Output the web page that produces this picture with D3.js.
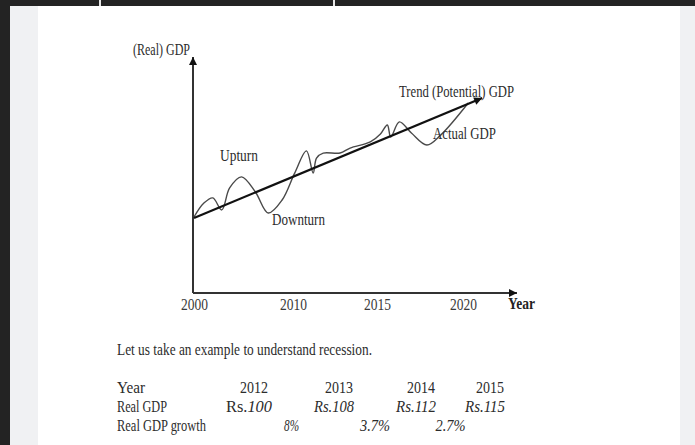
<!DOCTYPE html>
<html>
<head>
<meta charset="utf-8">
<script src="https://cdn.jsdelivr.net/npm/d3@7"></script>
<style>
body { margin: 0; background: #fff; }
</style>
</head>
<body>
<div id="chart"></div>
<script>
// x axis tick years (the drawing is schematic, spacing is not even)
const tickYears = [2000, 2010, 2015, 2020];
// trend (potential) GDP, start and end
const trendYears = [2000, 2021.1];
const trendGdp = [31.8, 82.6];
// actual GDP
const actualYears = [2000.0, 2001.0, 2001.9, 2002.8, 2003.6, 2004.8, 2006.2, 2007.5, 2008.9, 2010.1, 2010.8, 2011.2, 2011.4, 2011.8, 2012.8, 2013.4, 2014.6, 2015.2, 2015.6, 2015.8, 2016.3, 2017.0, 2017.9, 2018.7, 2020.3];
const actualGdp = [32.2, 38.1, 40.3, 35.2, 44.5, 49.2, 42.8, 33.9, 39.4, 50.8, 60.2, 50.8, 57.2, 59.3, 59.3, 61.4, 64.0, 67.4, 71.2, 66.1, 72.5, 67.8, 62.7, 66.9, 80.5];
// example table
const tableYears = [2012, 2013, 2014, 2015];
const tableGdp = [100, 108, 112, 115];
const tableGrowth = ["8%", "3.7%", "2.7%"];

const W = 695, H = 445;
const serif = "'Liberation Serif', 'DejaVu Serif', serif";

const svg = d3.select("#chart").append("svg")
    .attr("width", W).attr("height", H)
    .attr("viewBox", `0 0 ${W} ${H}`);

// page frame around the picture
svg.append("rect").attr("x", 0).attr("y", 0).attr("width", W).attr("height", H).attr("fill", "#fff");
svg.append("rect").attr("x", 10).attr("y", 0).attr("width", 28).attr("height", H).attr("fill", "#f0f1f3");
svg.append("rect").attr("x", 680).attr("y", 0).attr("width", 15).attr("height", H).attr("fill", "#f0f1f3");
svg.append("rect").attr("x", 0).attr("y", 0).attr("width", 10).attr("height", H).attr("fill", "#232323");
svg.append("rect").attr("x", 0).attr("y", 0).attr("width", W).attr("height", 6).attr("fill", "#232323");
[100, 334].forEach(function (sx) {
    svg.append("rect").attr("x", sx - 1).attr("y", 0).attr("width", 2).attr("height", 6).attr("fill", "#e8e8e8");
});

// arrow head
svg.append("defs").append("marker")
    .attr("id", "arrow")
    .attr("viewBox", "0 0 10 10")
    .attr("refX", 10).attr("refY", 5)
    .attr("markerUnits", "userSpaceOnUse")
    .attr("markerWidth", 11).attr("markerHeight", 8)
    .attr("orient", "auto")
    .append("path").attr("d", "M0,0L10,5L0,10z").attr("fill", "#111");

// scales
var x = d3.scaleLinear()
    .domain([2000, 2010, 2015, 2020, 2023.1])
    .range([194, 293, 377, 463, 517]);
var y = d3.scaleLinear()
    .domain([0, 100])
    .range([293, 57]);

function label(g, tx, ty, str, size, width, opts) {
    opts = opts || {};
    var t = g.append("text")
        .attr("x", tx).attr("y", ty)
        .attr("font-family", serif)
        .attr("font-size", size)
        .attr("fill", opts.fill || "#2c2c2c")
        .attr("text-anchor", opts.anchor || "start")
        .attr("font-weight", opts.weight || "normal")
        .attr("font-style", opts.style || "normal")
        .text(str);
    if (width) t.attr("textLength", width).attr("lengthAdjust", "spacingAndGlyphs");
    return t;
}

// x axis
var xAxis = svg.append("g")
    .attr("transform", "translate(0," + y(0) + ")")
    .call(d3.axisBottom(x).tickValues(tickYears).tickSize(0).tickPadding(6).tickFormat(d3.format("d")));
xAxis.select(".domain").remove();
xAxis.selectAll("text")
    .attr("font-family", serif)
    .attr("font-size", 16)
    .attr("fill", "#3a3a3a")
    .attr("textLength", 27).attr("lengthAdjust", "spacingAndGlyphs");

// axis lines with arrows
svg.append("line")
    .attr("x1", x(2000) - 1).attr("y1", y(0))
    .attr("x2", x(2023.1)).attr("y2", y(0))
    .attr("stroke", "#333").attr("stroke-width", 2)
    .attr("marker-end", "url(#arrow)");
svg.append("line")
    .attr("x1", x(2000) - 1).attr("y1", y(0))
    .attr("x2", x(2000) - 1).attr("y2", y(100))
    .attr("stroke", "#333").attr("stroke-width", 2)
    .attr("marker-end", "url(#arrow)");

// actual GDP
var actual = actualYears.map(function (d, i) { return [d, actualGdp[i]]; });
svg.append("path")
    .datum(actual)
    .attr("fill", "none")
    .attr("stroke", "#4a4a4a")
    .attr("stroke-width", 1.4)
    .attr("d", d3.line()
        .x(function (d) { return x(d[0]); })
        .y(function (d) { return y(d[1]); })
        .curve(d3.curveCatmullRom.alpha(0.5)));

// trend GDP
svg.append("line")
    .attr("x1", x(trendYears[0])).attr("y1", y(trendGdp[0]))
    .attr("x2", x(trendYears[1])).attr("y2", y(trendGdp[1]))
    .attr("stroke", "#111").attr("stroke-width", 2.2)
    .attr("marker-end", "url(#arrow)");

// chart labels
label(svg, 133, 55, "(Real) GDP", 16, 57);
label(svg, 220, 161, "Upturn", 16, 38);
label(svg, 272, 225, "Downturn", 16, 53);
label(svg, 399, 97, "Trend (Potential) GDP", 16, 115);
label(svg, 433, 139, "Actual GDP", 16, 63);
label(svg, 508, 309, "Year", 16, 27, { weight: "bold", fill: "#222" });

// text below the chart
label(svg, 117, 355, "Let us take an example to understand recession.", 17, 255);

var col = d3.scaleLinear()
    .domain([2012, 2013, 2014, 2015])
    .range([254, 339, 421, 490]);

label(svg, 117, 393, "Year", 16, 28);
label(svg, 117, 412, "Real GDP", 16, 50);
label(svg, 117, 431, "Real GDP growth", 16, 89);

tableYears.forEach(function (yr) {
    label(svg, col(yr), 393, String(yr), 16, 28, { anchor: "middle" });
});
tableGdp.forEach(function (v, i) {
    var t = svg.append("text")
        .attr("x", col(tableYears[i]) - 5).attr("y", 412)
        .attr("font-family", serif).attr("font-size", 16)
        .attr("fill", "#2c2c2c").attr("text-anchor", "middle")
        .attr("textLength", i === 0 ? 46 : 40).attr("lengthAdjust", "spacingAndGlyphs");
    t.append("tspan").attr("font-style", i === 0 ? "normal" : "italic").text("Rs.");
    t.append("tspan").attr("font-style", "italic").text(v);
});
tableGrowth.forEach(function (g, i) {
    var mid = (tableYears[i] + tableYears[i + 1]) / 2;
    label(svg, col(mid) - 5, 431, g, 16, g.length * 7.5, { anchor: "middle", style: "italic" });
});
</script>
</body>
</html>
